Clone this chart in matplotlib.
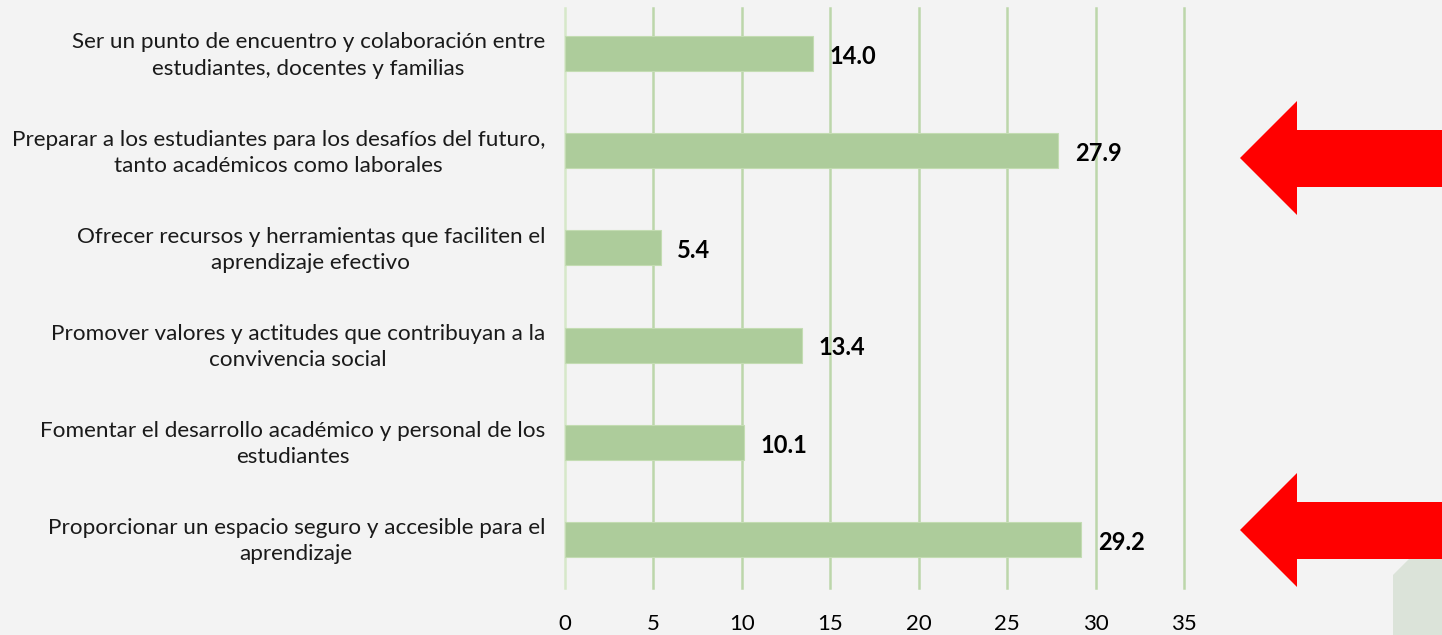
import matplotlib
matplotlib.use("Agg")
import matplotlib.pyplot as plt
from matplotlib.patches import Polygon

categories = [
    "Ser un punto de encuentro y colaboración entre\nestudiantes, docentes y familias",
    "Preparar a los estudiantes para los desafíos del futuro,\ntanto académicos como laborales",
    "Ofrecer recursos y herramientas que faciliten el\naprendizaje efectivo",
    "Promover valores y actitudes que contribuyan a la\nconvivencia social",
    "Fomentar el desarrollo académico y personal de los\nestudiantes",
    "Proporcionar un espacio seguro y accesible para el\naprendizaje",
]
values = [14.0, 27.9, 5.4, 13.4, 10.1, 29.2]
xticks = [0, 5, 10, 15, 20, 25, 30, 35]

BG = "#f3f3f3"
BAR = "#adcc9b"
GRID = "#bcd6aa"

fig = plt.figure(figsize=(14.42, 6.35), dpi=100)
fig.patch.set_facecolor(BG)
ax = fig.add_axes([565/1442, 47/635, 619/1442, 583/635])
ax.set_facecolor(BG)

y = list(range(len(categories)))
ax.barh(y, values, height=0.36, color=BAR, edgecolor="#c3dcb2", linewidth=0.8, zorder=2)
ax.set_ylim(len(categories) - 0.5, -0.5)
ax.set_xlim(0, 35)
ax.set_xticks(xticks)
ax.set_xticklabels([str(t) for t in xticks], fontsize=16, family="Lato")
ax.tick_params(axis="x", length=0, pad=19)
ax.set_yticks([])
for yi, lab in zip(y, categories):
    ax.text(-0.0323, yi + 0.02, lab, transform=ax.get_yaxis_transform(), ha="right",
            multialignment="center", va="center", fontsize=16.2, family="Lato",
            linespacing=1.38, color="#1a1a1a")
for t in xticks:
    ax.plot([t, t], [-0.47, 5.5], color=GRID if t else "#d6e8c9", linewidth=1.8,
            zorder=1, clip_on=False)
for s in ax.spines.values():
    s.set_visible(False)
for yi, v in zip(y, values):
    ax.text(v + 0.95, yi + 0.03, f"{v:.1f}", va="center", ha="left", fontsize=17,
            fontweight="bold", family="Lato", color="black", zorder=3)

# red arrows
def arrow(cy):
    pts = [(1240, cy), (1297, cy - 57), (1297, cy - 28), (1442, cy - 28),
           (1442, cy + 29), (1297, cy + 29), (1297, cy + 57)]
    pts = [(px / 1442, 1 - py / 635) for px, py in pts]
    fig.patches.append(Polygon(pts, closed=True, transform=fig.transFigure,
                               facecolor="#ff0000", edgecolor="none"))
arrow(158)
arrow(530)

# decorative corner shape
corner = [(1393, 575), (1410, 558), (1442, 558), (1442, 635), (1393, 635)]
corner = [(px / 1442, 1 - py / 635) for px, py in corner]
fig.patches.insert(0, Polygon(corner, closed=True, transform=fig.transFigure,
                              facecolor="#dbe3d9", edgecolor="none"))

fig.savefig("out.png", dpi=100, facecolor=BG)
